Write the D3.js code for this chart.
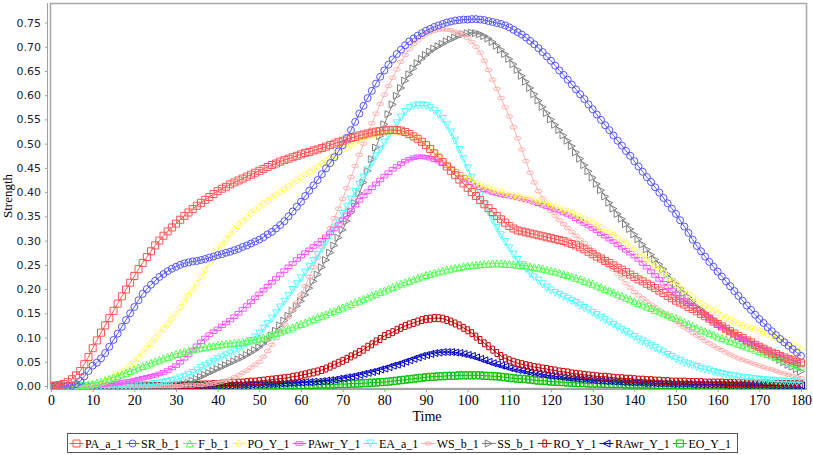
<!DOCTYPE html>
<html><head><meta charset="utf-8">
<script src="https://cdn.jsdelivr.net/npm/d3@7/dist/d3.min.js"></script>
<style>body{margin:0;background:#fff}svg{display:block}</style></head>
<body><svg id="c" width="813" height="455"></svg>
<script>
// ---------- DATA ----------
const timeStart = 0, timeStep = 1;          // one sample per time unit, 0..180
const xTickValues = [0,10,20,30,40,50,60,70,80,90,100,110,120,130,140,150,160,170,180];
const yTickValues = [0,0.05,0.10,0.15,0.20,0.25,0.30,0.35,0.40,0.45,0.50,0.55,0.60,0.65,0.70,0.75];
const seriesNames = ["PA_a_1","SR_b_1","F_b_1","PO_Y_1","PAwr_Y_1","EA_a_1","WS_b_1","SS_b_1","RO_Y_1","RAwr_Y_1","EO_Y_1"];

const PA_a_1 = [0.000,0.001,0.002,0.004,0.008,0.014,
0.022,0.031,0.045,0.060,0.078, 0.094,0.110,0.125,0.140,0.155, 0.170,0.185,0.199,0.213,0.227,
0.241,0.254,0.266,0.278,0.290, 0.300,0.310,0.319,0.327,0.335, 0.343,0.351,0.358,0.365,0.372,
0.378,0.384,0.390,0.396,0.402, 0.407,0.411,0.416,0.420,0.424, 0.428,0.432,0.436,0.440,0.444,
0.448,0.452,0.456,0.459,0.463, 0.466,0.469,0.472,0.475,0.478, 0.481,0.483,0.486,0.488,0.491,
0.494,0.497,0.500,0.503,0.506, 0.509,0.512,0.514,0.517,0.519, 0.521,0.523,0.525,0.526,0.527,
0.528,0.528,0.528,0.527,0.524, 0.520,0.515,0.510,0.504,0.497, 0.489,0.480,0.471,0.462,0.453,
0.444,0.435,0.426,0.418,0.409, 0.400,0.392,0.384,0.375,0.367, 0.359,0.351,0.344,0.337,0.330,
0.325,0.321,0.319,0.317,0.315, 0.313,0.311,0.309,0.307,0.305, 0.303,0.301,0.299,0.296,0.293,
0.290,0.286,0.282,0.277,0.272, 0.267,0.263,0.258,0.254,0.249, 0.244,0.240,0.235,0.230,0.225,
0.220,0.216,0.211,0.207,0.202, 0.197,0.192,0.186,0.181,0.176, 0.172,0.168,0.163,0.159,0.154,
0.149,0.144,0.139,0.133,0.128, 0.123,0.118,0.113,0.108,0.103, 0.099,0.094,0.090,0.085,0.081,
0.077,0.073,0.069,0.066,0.062, 0.059,0.056,0.053,0.050,0.047];

const SR_b_1 = [0.000,0.000,0.000,0.000,0.000,0.001,
0.004,0.010,0.020,0.031,0.042, 0.048,0.057,0.068,0.081,0.095, 0.108,0.122,0.136,0.150,0.163,
0.177,0.190,0.200,0.209,0.217, 0.225,0.231,0.237,0.242,0.246, 0.250,0.253,0.255,0.257,0.258,
0.260,0.262,0.265,0.267,0.270, 0.272,0.275,0.277,0.280,0.283, 0.287,0.290,0.294,0.298,0.302,
0.307,0.313,0.318,0.325,0.332, 0.340,0.350,0.360,0.370,0.380, 0.392,0.403,0.414,0.425,0.437,
0.449,0.460,0.472,0.484,0.497, 0.512,0.528,0.545,0.562,0.578, 0.594,0.609,0.624,0.638,0.651,
0.663,0.674,0.685,0.694,0.703, 0.711,0.717,0.723,0.728,0.733, 0.737,0.741,0.744,0.747,0.750,
0.752,0.754,0.755,0.756,0.756, 0.757,0.757,0.756,0.755,0.753, 0.751,0.749,0.747,0.744,0.740,
0.735,0.730,0.725,0.719,0.712, 0.705,0.697,0.689,0.680,0.671, 0.661,0.651,0.642,0.632,0.622,
0.612,0.602,0.592,0.581,0.571, 0.560,0.549,0.538,0.528,0.517, 0.506,0.496,0.485,0.475,0.464,
0.453,0.442,0.431,0.421,0.410, 0.399,0.388,0.377,0.366,0.355, 0.342,0.329,0.316,0.302,0.289,
0.278,0.267,0.256,0.246,0.236, 0.226,0.216,0.206,0.196,0.186, 0.176,0.166,0.157,0.147,0.138,
0.130,0.121,0.113,0.105,0.097, 0.090,0.083,0.076,0.069,0.062];

const F_b_1 = [0,0,0,0,0,0,
0.000,0.001,0.002,0.003,0.005, 0.007,0.009,0.012,0.015,0.018, 0.021,0.024,0.027,0.031,0.034,
0.038,0.041,0.044,0.048,0.051, 0.054,0.057,0.060,0.063,0.066, 0.068,0.071,0.073,0.075,0.077,
0.079,0.080,0.082,0.083,0.085, 0.086,0.087,0.088,0.089,0.090, 0.091,0.093,0.094,0.096,0.098,
0.100,0.103,0.106,0.109,0.112, 0.115,0.118,0.121,0.125,0.128, 0.131,0.135,0.138,0.142,0.145,
0.148,0.152,0.155,0.159,0.162, 0.166,0.169,0.173,0.176,0.180, 0.183,0.187,0.190,0.194,0.197,
0.201,0.204,0.207,0.211,0.214, 0.217,0.220,0.223,0.226,0.229, 0.231,0.234,0.236,0.238,0.240,
0.242,0.244,0.245,0.247,0.248, 0.249,0.250,0.251,0.252,0.252, 0.253,0.253,0.253,0.252,0.252,
0.251,0.250,0.249,0.248,0.247, 0.245,0.244,0.242,0.240,0.238, 0.236,0.234,0.231,0.229,0.226,
0.223,0.220,0.217,0.214,0.211, 0.207,0.204,0.200,0.197,0.193, 0.189,0.186,0.182,0.179,0.175,
0.171,0.168,0.164,0.161,0.157, 0.154,0.150,0.147,0.143,0.140, 0.136,0.132,0.128,0.124,0.120,
0.116,0.113,0.109,0.106,0.102, 0.099,0.096,0.093,0.090,0.087, 0.084,0.081,0.078,0.075,0.072,
0.069,0.066,0.063,0.060,0.057, 0.054,0.050,0.047,0.043,0.040];

const PO_Y_1 = [0,0,0,0,0,0,
0.000,0.000,0.001,0.002,0.003, 0.005,0.007,0.010,0.014,0.018, 0.023,0.029,0.035,0.042,0.050,
0.059,0.068,0.078,0.088,0.098, 0.108,0.118,0.128,0.139,0.150, 0.162,0.174,0.186,0.199,0.212,
0.226,0.240,0.254,0.268,0.280, 0.291,0.302,0.312,0.322,0.332, 0.340,0.348,0.356,0.363,0.370,
0.376,0.382,0.388,0.394,0.400, 0.406,0.412,0.418,0.424,0.430, 0.436,0.442,0.448,0.453,0.459,
0.465,0.470,0.476,0.481,0.487, 0.492,0.497,0.502,0.506,0.510, 0.514,0.517,0.520,0.522,0.523,
0.525,0.525,0.525,0.524,0.522, 0.519,0.515,0.510,0.504,0.498, 0.491,0.483,0.475,0.466,0.458,
0.450,0.443,0.437,0.432,0.427, 0.423,0.419,0.415,0.411,0.408, 0.405,0.402,0.399,0.397,0.394,
0.392,0.390,0.388,0.387,0.385, 0.383,0.381,0.378,0.375,0.372, 0.369,0.366,0.363,0.360,0.356,
0.353,0.349,0.345,0.341,0.337, 0.332,0.327,0.322,0.317,0.312, 0.306,0.300,0.294,0.287,0.281,
0.274,0.268,0.261,0.255,0.248, 0.241,0.233,0.226,0.218,0.211, 0.204,0.197,0.190,0.183,0.176,
0.170,0.165,0.160,0.155,0.150, 0.145,0.141,0.137,0.132,0.128, 0.125,0.122,0.119,0.117,0.114,
0.111,0.107,0.104,0.100,0.097, 0.093,0.089,0.085,0.080,0.076];

const PAwr_Y_1 = [0,0,0,0,0,0,
0,0,0,0,0.001, 0.001,0.002,0.003,0.004,0.005, 0.006,0.007,0.009,0.010,0.012,
0.014,0.016,0.018,0.020,0.022, 0.025,0.028,0.032,0.037,0.042, 0.049,0.057,0.065,0.074,0.083,
0.091,0.099,0.106,0.112,0.118, 0.124,0.130,0.136,0.143,0.150, 0.158,0.166,0.174,0.182,0.190,
0.198,0.206,0.214,0.222,0.230, 0.238,0.246,0.253,0.261,0.268, 0.275,0.281,0.288,0.294,0.301,
0.308,0.316,0.324,0.333,0.343, 0.353,0.363,0.373,0.383,0.392, 0.401,0.409,0.417,0.425,0.433,
0.440,0.447,0.453,0.459,0.464, 0.468,0.471,0.473,0.473,0.472, 0.470,0.467,0.464,0.460,0.455,
0.449,0.443,0.437,0.431,0.425, 0.419,0.414,0.409,0.405,0.402, 0.399,0.397,0.395,0.393,0.392,
0.390,0.388,0.386,0.384,0.382, 0.379,0.376,0.373,0.370,0.367, 0.364,0.361,0.357,0.354,0.350,
0.345,0.340,0.335,0.330,0.325, 0.320,0.314,0.309,0.303,0.298, 0.292,0.286,0.280,0.274,0.268,
0.261,0.253,0.245,0.236,0.228, 0.220,0.212,0.205,0.197,0.190, 0.183,0.177,0.170,0.164,0.158,
0.152,0.145,0.139,0.133,0.127, 0.122,0.117,0.112,0.107,0.102, 0.098,0.094,0.089,0.085,0.081,
0.077,0.073,0.070,0.066,0.062, 0.059,0.056,0.052,0.049,0.046];

const EA_a_1 = [0,0,0,0,0,0,
0,0,0,0,0, 0,0,0,0,0, 0,0,0,0.001,0.001,
0.001,0.002,0.002,0.003,0.004, 0.005,0.007,0.008,0.010,0.013, 0.016,0.019,0.023,0.027,0.032,
0.037,0.041,0.046,0.050,0.055, 0.059,0.063,0.067,0.071,0.076, 0.081,0.087,0.093,0.100,0.108,
0.118,0.128,0.139,0.150,0.162, 0.174,0.186,0.198,0.210,0.222, 0.234,0.246,0.258,0.270,0.283,
0.297,0.311,0.325,0.340,0.355, 0.370,0.385,0.400,0.415,0.430, 0.445,0.460,0.474,0.488,0.502,
0.516,0.529,0.542,0.554,0.565, 0.573,0.577,0.579,0.579,0.578, 0.574,0.568,0.561,0.551,0.538,
0.523,0.506,0.487,0.468,0.449, 0.430,0.411,0.393,0.375,0.358, 0.342,0.326,0.311,0.297,0.284,
0.271,0.260,0.250,0.241,0.232, 0.224,0.217,0.210,0.203,0.197, 0.192,0.188,0.184,0.180,0.175,
0.171,0.166,0.161,0.156,0.151, 0.146,0.141,0.136,0.131,0.126, 0.121,0.116,0.111,0.106,0.101,
0.096,0.092,0.087,0.083,0.078, 0.073,0.069,0.064,0.060,0.055, 0.052,0.048,0.045,0.042,0.039,
0.036,0.034,0.032,0.029,0.027, 0.025,0.023,0.021,0.020,0.018, 0.017,0.016,0.015,0.014,0.013,
0.012,0.011,0.011,0.010,0.009, 0.009,0.008,0.008,0.007,0.007];

const WS_b_1 = [0,0,0,0,0,0,
0,0,0,0,0, 0,0,0,0,0, 0,0,0,0,0,
0,0,0,0,0, 0,0,0,0,0, 0.000,0.001,0.001,0.001,0.002,
0.002,0.003,0.004,0.005,0.007, 0.009,0.011,0.014,0.018,0.022, 0.027,0.032,0.038,0.044,0.050,
0.060,0.072,0.085,0.099,0.113, 0.127,0.142,0.157,0.172,0.188, 0.206,0.225,0.245,0.265,0.286,
0.306,0.326,0.346,0.366,0.386, 0.408,0.431,0.454,0.477,0.500, 0.521,0.542,0.562,0.582,0.601,
0.619,0.636,0.653,0.669,0.683, 0.695,0.705,0.713,0.720,0.726, 0.730,0.733,0.735,0.736,0.735,
0.734,0.731,0.728,0.724,0.718, 0.710,0.700,0.688,0.671,0.652, 0.632,0.613,0.594,0.575,0.556,
0.534,0.511,0.488,0.464,0.440, 0.420,0.402,0.387,0.373,0.361, 0.351,0.342,0.334,0.326,0.318,
0.310,0.302,0.295,0.287,0.280, 0.272,0.264,0.256,0.248,0.240, 0.231,0.222,0.212,0.203,0.194,
0.187,0.181,0.174,0.168,0.162, 0.156,0.150,0.144,0.139,0.133, 0.127,0.121,0.116,0.110,0.104,
0.099,0.093,0.088,0.083,0.078, 0.074,0.069,0.065,0.061,0.057, 0.054,0.051,0.048,0.045,0.042,
0.039,0.036,0.034,0.031,0.028, 0.026,0.023,0.021,0.018,0.016];

const SS_b_1 = [0,0,0,0,0,0,
0,0,0,0,0, 0,0,0,0,0, 0,0,0,0,0,
0,0,0,0,0, 0,0,0,0.000,0.001, 0.002,0.004,0.007,0.011,0.015,
0.019,0.023,0.027,0.031,0.035, 0.039,0.043,0.047,0.051,0.055, 0.059,0.064,0.069,0.074,0.080,
0.087,0.095,0.104,0.114,0.125, 0.135,0.145,0.155,0.165,0.175, 0.188,0.202,0.216,0.230,0.245,
0.260,0.275,0.290,0.306,0.322, 0.340,0.358,0.377,0.398,0.420, 0.444,0.468,0.492,0.516,0.540,
0.561,0.581,0.599,0.615,0.630, 0.643,0.655,0.666,0.675,0.683, 0.690,0.696,0.701,0.706,0.711,
0.715,0.719,0.723,0.726,0.728, 0.729,0.728,0.726,0.722,0.717, 0.710,0.702,0.694,0.685,0.675,
0.664,0.652,0.640,0.628,0.615, 0.602,0.589,0.576,0.563,0.550, 0.539,0.528,0.517,0.506,0.495,
0.482,0.469,0.456,0.443,0.430, 0.417,0.404,0.391,0.378,0.366, 0.355,0.345,0.334,0.324,0.313,
0.303,0.292,0.282,0.271,0.261, 0.251,0.241,0.230,0.220,0.210, 0.201,0.192,0.183,0.174,0.165,
0.158,0.151,0.144,0.137,0.130, 0.124,0.119,0.113,0.108,0.102, 0.098,0.093,0.089,0.084,0.080,
0.075,0.070,0.064,0.059,0.054, 0.049,0.044,0.040,0.035,0.030];

const RO_Y_1 = [0,0,0,0,0,0,
0,0,0,0,0, 0,0,0,0,0, 0,0,0,0,0,
0,0,0,0,0, 0,0,0,0,0.001, 0.001,0.001,0.002,0.002,0.002,
0.003,0.003,0.003,0.004,0.004, 0.005,0.005,0.006,0.006,0.007, 0.007,0.008,0.009,0.009,0.010,
0.011,0.012,0.013,0.014,0.015, 0.016,0.017,0.019,0.020,0.022, 0.024,0.026,0.028,0.030,0.033,
0.036,0.040,0.044,0.048,0.052, 0.056,0.061,0.065,0.070,0.075, 0.081,0.086,0.092,0.097,0.103,
0.107,0.111,0.116,0.120,0.124, 0.127,0.130,0.133,0.136,0.138, 0.139,0.140,0.140,0.139,0.136,
0.133,0.129,0.125,0.120,0.115, 0.109,0.102,0.095,0.088,0.082, 0.075,0.068,0.062,0.057,0.053,
0.050,0.047,0.045,0.043,0.041, 0.039,0.038,0.036,0.035,0.033, 0.032,0.030,0.029,0.028,0.026,
0.025,0.024,0.023,0.022,0.021, 0.020,0.019,0.019,0.018,0.017, 0.016,0.016,0.015,0.015,0.014,
0.013,0.013,0.012,0.012,0.011, 0.011,0.010,0.010,0.009,0.009, 0.009,0.009,0.008,0.008,0.008,
0.008,0.007,0.007,0.007,0.007, 0.007,0.006,0.006,0.006,0.006, 0.006,0.005,0.005,0.005,0.005,
0.005,0.005,0.004,0.004,0.004, 0.004,0.004,0.004,0.004,0.004];

const RAwr_Y_1 = [0,0,0,0,0,0,
0,0,0,0,0, 0,0,0,0,0, 0,0,0,0,0,
0,0,0,0,0, 0,0,0,0,0, 0,0,0,0,0,
0,0,0,0,0.001, 0.001,0.001,0.001,0.002,0.002, 0.002,0.002,0.003,0.003,0.003,
0.003,0.004,0.004,0.004,0.005, 0.005,0.006,0.006,0.007,0.007, 0.008,0.008,0.009,0.009,0.010,
0.011,0.012,0.013,0.015,0.016, 0.018,0.019,0.021,0.023,0.025, 0.027,0.029,0.031,0.034,0.036,
0.039,0.042,0.044,0.047,0.050, 0.053,0.056,0.059,0.062,0.064, 0.066,0.068,0.069,0.070,0.070,
0.070,0.069,0.068,0.066,0.064, 0.062,0.059,0.056,0.053,0.050, 0.047,0.045,0.042,0.040,0.037,
0.035,0.033,0.032,0.030,0.028, 0.027,0.025,0.024,0.022,0.021, 0.020,0.019,0.018,0.017,0.016,
0.015,0.014,0.014,0.013,0.012, 0.011,0.011,0.010,0.010,0.009, 0.009,0.008,0.008,0.007,0.007,
0.007,0.006,0.006,0.006,0.005, 0.005,0.005,0.005,0.004,0.004, 0.004,0.004,0.004,0.003,0.003,
0.003,0.003,0.003,0.003,0.003, 0.003,0.002,0.002,0.002,0.002, 0.002,0.002,0.002,0.002,0.002,
0.002,0.001,0.001,0.001,0.001, 0.001,0.001,0.001,0.001,0.001];

const EO_Y_1 = [0,0,0,0,0,0,
0,0,0,0,0, 0,0,0,0,0, 0,0,0,0,0,
0,0,0,0,0, 0,0,0,0,0, 0,0,0,0,0,
0,0,0,0,0, 0,0,0,0,0, 0,0,0,0,0.001,
0.001,0.001,0.001,0.001,0.001, 0.001,0.001,0.002,0.002,0.002, 0.002,0.002,0.002,0.003,0.003,
0.003,0.003,0.003,0.004,0.004, 0.004,0.005,0.005,0.005,0.006, 0.006,0.007,0.007,0.008,0.008,
0.009,0.010,0.011,0.012,0.013, 0.014,0.015,0.016,0.017,0.018, 0.019,0.019,0.020,0.020,0.021,
0.021,0.021,0.022,0.022,0.022, 0.022,0.022,0.022,0.021,0.021, 0.020,0.020,0.019,0.018,0.017,
0.016,0.015,0.015,0.014,0.013, 0.012,0.011,0.011,0.010,0.009, 0.009,0.008,0.008,0.007,0.007,
0.006,0.006,0.006,0.005,0.005, 0.005,0.005,0.004,0.004,0.004, 0.004,0.004,0.003,0.003,0.003,
0.003,0.003,0.003,0.003,0.002, 0.002,0.002,0.002,0.002,0.002, 0.002,0.002,0.002,0.001,0.001,
0.001,0.001,0.001,0.001,0.001, 0.001,0.001,0.001,0.001,0.001, 0.001,0.001,0.001,0.001,0.001,
0.001,0.001,0.001,0.001,0.001, 0.001,0.001,0.001,0.001,0.001];

const seriesValues = [PA_a_1,SR_b_1,F_b_1,PO_Y_1,PAwr_Y_1,EA_a_1,WS_b_1,SS_b_1,RO_Y_1,RAwr_Y_1,EO_Y_1];
const seriesColors = ["#ff5555","#5555ff","#55ff55","#ffff55","#ff55ff","#55ffff","#ffafaf","#808080","#c00000","#0000c0","#00c000"];
const seriesShapes = ["square","circle","triUp","diamond","hRect","triDown","hEllipse","triRight","vRect","triLeft","square"];

// ---------- CHART ----------
seriesValues.forEach((a,i)=>{ if(a.length!==181) throw new Error(seriesNames[i]+" has "+a.length); });

const svg = d3.select("#c");
const plot = {l:50, t:3, r:807, b:389};
const x = d3.scaleLinear().domain([0,180]).range([51,801]);
const y = d3.scaleLinear().domain([0,0.75]).range([386,22.5]);

function shapePath(s){
  const h=3.5;
  switch(s){
    case "square": return `M${-h},${-h}H${h}V${h}H${-h}Z`;
    case "circle": return `M${-h},0A${h},${h} 0 1,0 ${h},0A${h},${h} 0 1,0 ${-h},0Z`;
    case "triUp": return `M0,${-h}L${h},${h}L${-h},${h}Z`;
    case "diamond": return `M0,${-h}L${h},0L0,${h}L${-h},0Z`;
    case "hRect": return `M${-h},${-h/2}H${h}V${h/2}H${-h}Z`;
    case "triDown": return `M0,${h}L${h},${-h}L${-h},${-h}Z`;
    case "hEllipse": return `M${-h},0A${h},${h/2} 0 1,0 ${h},0A${h},${h/2} 0 1,0 ${-h},0Z`;
    case "triRight": return `M${-h},${-h}L${h},0L${-h},${h}Z`;
    case "vRect": return `M${-h/2},${-h}H${h/2}V${h}H${-h/2}Z`;
    case "triLeft": return `M${h},${-h}L${-h},0L${h},${h}Z`;
  }
}

svg.append("defs").append("clipPath").attr("id","clip")
  .append("rect").attr("x",plot.l).attr("y",plot.t).attr("width",plot.r-plot.l).attr("height",plot.b-plot.t);

// plot background/outline
svg.append("rect").attr("x",plot.l+0.5).attr("y",plot.t+0.5)
  .attr("width",plot.r-plot.l-1).attr("height",plot.b-plot.t-1)
  .attr("fill","#fff").attr("stroke","#a8a8a8").attr("stroke-width",1.5);

// axes
const yAxisG = svg.append("g").attr("transform","translate(47,0)")
  .call(d3.axisLeft(y).tickValues(yTickValues).tickFormat(d3.format(".2f")).tickSize(2).tickPadding(4));
yAxisG.select(".domain").attr("stroke","#a0a0a0").attr("d",`M0.5,${plot.t}V${plot.b}`);
yAxisG.selectAll(".tick line").attr("stroke","#a0a0a0");
yAxisG.selectAll("text").attr("font-family","DejaVu Sans, Verdana, sans-serif").attr("font-size",11).attr("fill","#222");

const xAxisG = svg.append("g").attr("transform",`translate(0,${plot.b})`)
  .call(d3.axisBottom(x).tickValues(xTickValues).tickSize(3).tickPadding(3));
xAxisG.select(".domain").attr("stroke","#a0a0a0").attr("d",`M${plot.l},0.5H${plot.r}`);
xAxisG.selectAll(".tick line").attr("stroke","#a0a0a0");
xAxisG.selectAll("text").attr("font-family","Liberation Serif, Times New Roman, serif").attr("font-size",14).attr("fill","#000");

svg.append("text").attr("x",427).attr("y",421).attr("text-anchor","middle")
  .attr("font-family","Liberation Serif, Times New Roman, serif").attr("font-size",14).text("Time");
svg.append("text").attr("transform","translate(12,196) rotate(-90)").attr("text-anchor","middle")
  .attr("font-family","Liberation Serif, Times New Roman, serif").attr("font-size",13).text("Strength");

// series (reverse order so first series is on top)
const gData = svg.append("g").attr("clip-path","url(#clip)");
const line = d3.line().x((d,i)=>x(timeStart+i*timeStep)).y(d=>y(d));
for(let k=seriesValues.length-1;k>=0;k--){
  const g = gData.append("g");
  g.append("path").attr("d",line(seriesValues[k])).attr("fill","none")
    .attr("stroke",seriesColors[k]).attr("stroke-width",1);
  g.selectAll("path.m").data(seriesValues[k]).join("path").attr("class","m")
    .attr("d",shapePath(seriesShapes[k]))
    .attr("transform",(d,i)=>`translate(${x(timeStart+i*timeStep)},${y(d)})`)
    .attr("fill","none").attr("stroke",seriesColors[k]).attr("stroke-width",1);
}

// legend
const lg = svg.append("g");
lg.append("rect").attr("x",67.5).attr("y",433.5).attr("width",670).attr("height",19)
  .attr("fill","#fff").attr("stroke","#555").attr("stroke-width",1);
let cur = 69.5;
seriesNames.forEach((name,k)=>{
  const it = lg.append("g");
  it.append("line").attr("x1",cur).attr("x2",cur+14).attr("y1",443.5).attr("y2",443.5)
    .attr("stroke",seriesColors[k]).attr("stroke-width",1);
  it.append("path").attr("d",shapePath(seriesShapes[k])).attr("transform",`translate(${cur+7},443.5)`)
    .attr("fill","none").attr("stroke",seriesColors[k]).attr("stroke-width",1);
  const t = it.append("text").attr("x",cur+15.5).attr("y",448)
    .attr("font-family","Liberation Serif, Times New Roman, serif").attr("font-size",12).text(name);
  cur = cur + 15.5 + t.node().getComputedTextLength() + 3;
});
</script></body></html>
